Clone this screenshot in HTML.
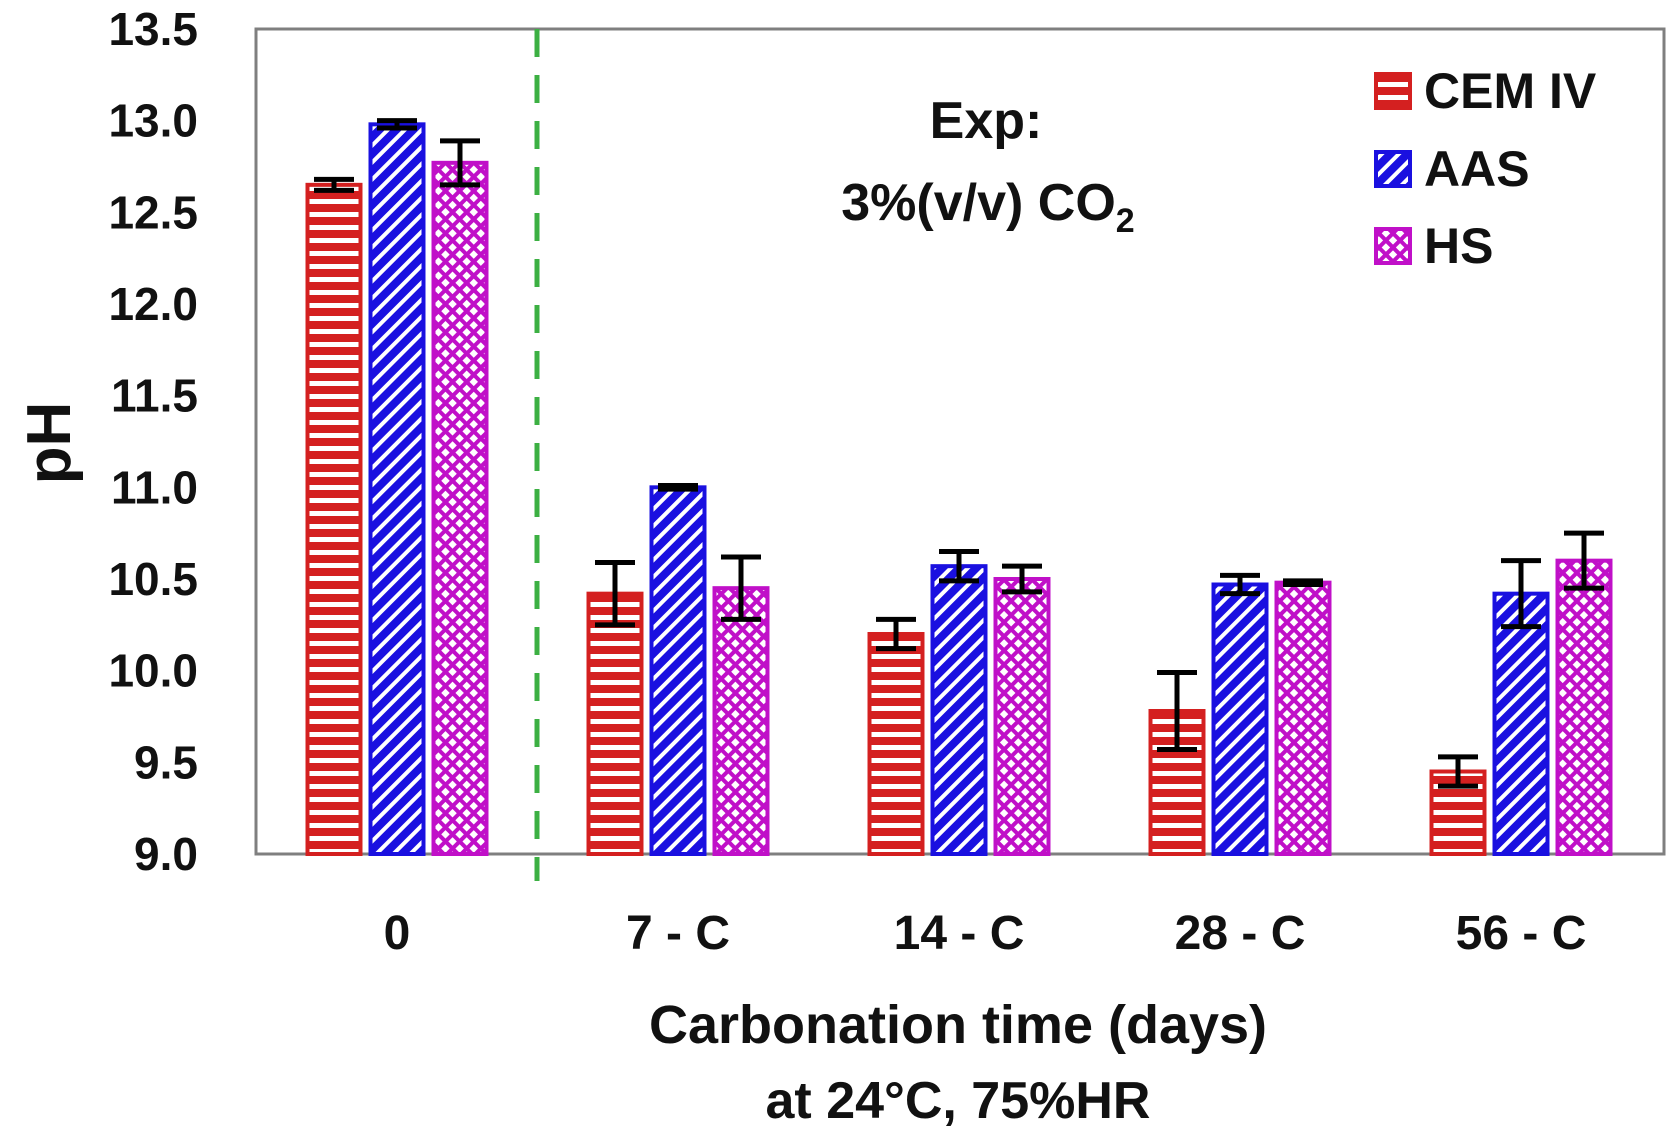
<!DOCTYPE html>
<html><head><meta charset="utf-8"><style>
body{margin:0;background:#fff;}
svg{display:block;font-family:"Liberation Sans",sans-serif;font-weight:bold;}
</style></head><body>
<svg id="chart" width="1675" height="1140" viewBox="0 0 1675 1140">
<defs>
<pattern id="pRed" width="10" height="13" patternUnits="userSpaceOnUse"><rect width="10" height="13" fill="#d42020"/><rect y="4" width="10" height="5" fill="#fff"/></pattern>
<pattern id="pBlue" width="12" height="12" patternUnits="userSpaceOnUse" patternTransform="rotate(45)"><rect width="12" height="12" fill="#1a10e0"/><rect x="4" width="4" height="12" fill="#fff"/></pattern>
<pattern id="pMag" width="10" height="10" patternUnits="userSpaceOnUse" patternTransform="rotate(45)"><rect width="10" height="10" fill="#c010c8"/><rect x="2" y="2" width="6" height="6" fill="#fff"/></pattern>
</defs>
</svg>
<script>
const categories = ["0","7 - C","14 - C","28 - C","56 - C"];
const seriesNames = ["CEM IV","AAS","HS"];
const cemValues = [12.65,10.42,10.2,9.78,9.45];
const aasValues = [12.98,11.0,10.57,10.47,10.42];
const hsValues = [12.77,10.45,10.5,10.48,10.6];
const cemErr = [0.03,0.17,0.08,0.21,0.08];
const aasErr = [0.02,0.01,0.08,0.05,0.18];
const hsErr = [0.12,0.17,0.07,0.01,0.15];
const yTicks = [9.0,9.5,10.0,10.5,11.0,11.5,12.0,12.5,13.0,13.5];

const NS="http://www.w3.org/2000/svg";
const svg=document.getElementById('chart');
const L=256,R=1664,T=29,B=854,yMin=9,yMax=13.5;
const y=v=>B-(v-yMin)/(yMax-yMin)*(B-T);
const x0=397,step=281;
const xc=i=>x0+i*step;
const bw=53,pitch=63;
function mk(tag,attrs,parent){const e=document.createElementNS(NS,tag);for(const k in attrs)e.setAttribute(k,attrs[k]);(parent||svg).appendChild(e);return e;}

const frame=mk('rect',{x:L,y:T,width:R-L,height:B-T,fill:'none',stroke:'#7f7f7f','stroke-width':3});



yTicks.forEach(t=>{
  const tx=mk('text',{x:198,y:y(t)+16,'text-anchor':'end','font-size':46,fill:'#111'});
  tx.textContent=t.toFixed(1);
  
  
});
const yl=mk('text',{x:0,y:0,'text-anchor':'middle','font-size':62,fill:'#111',transform:'translate(70,443) rotate(-90)'});
yl.textContent='pH';



const dash=mk('line',{x1:537,y1:T,x2:537,y2:881,stroke:'#3cb043','stroke-width':5,'stroke-dasharray':'28,18'});



const all=[cemValues,aasValues,hsValues],errs=[cemErr,aasErr,hsErr];
const fills=['url(#pRed)','url(#pBlue)','url(#pMag)'],strokes=['#d42020','#1a10e0','#c010c8'];
categories.forEach((c,i)=>{
  all.forEach((vals,s)=>{
    const cx=xc(i)+(s-1)*pitch;
    const b=mk('rect',{x:cx-bw/2,y:y(vals[i]),width:bw,height:B-y(vals[i]),fill:fills[s],stroke:strokes[s],'stroke-width':4});
    
    
    const e=errs[s][i],yt=y(vals[i]+e),yb=y(vals[i]-e);
    const g=mk('path',{d:`M${cx},${yt}V${yb}M${cx-20},${yt}H${cx+20}M${cx-20},${yb}H${cx+20}`,stroke:'#000','stroke-width':5,fill:'none'});
    
    
  });
  const t=mk('text',{x:xc(i),y:949,'text-anchor':'middle','font-size':48,fill:'#111'});
  t.textContent=c;
  
  
});

const xt1=mk('text',{x:958,y:1043,'text-anchor':'middle','font-size':54,fill:'#111'});
xt1.textContent='Carbonation  time (days)';


const xt2=mk('text',{x:958,y:1118,'text-anchor':'middle','font-size':52,fill:'#111'});
xt2.textContent='at 24°C, 75%HR';



const a1=mk('text',{x:986,y:138,'text-anchor':'middle','font-size':52,fill:'#111'});
a1.textContent='Exp:';


const a2=mk('text',{x:988,y:220,'text-anchor':'middle','font-size':52,fill:'#111'});
a2.innerHTML='3%(v/v)  CO<tspan font-size="34" dy="12">2</tspan>';



seriesNames.forEach((n,s)=>{
  const ly=[91,169,246][s];
  const sq=mk('rect',{x:1376,y:ly-17,width:34,height:34,fill:fills[s],stroke:strokes[s],'stroke-width':4});
  
  
  const t=mk('text',{x:1424,y:ly+17,'font-size':50,fill:'#111'});
  t.textContent=n;
  
  
});
</script>
</body></html>
